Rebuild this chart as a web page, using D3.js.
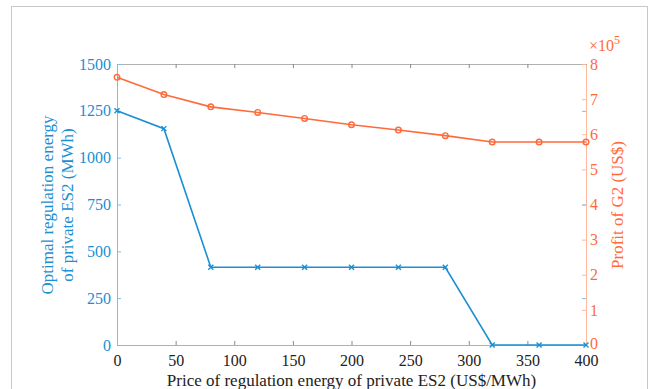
<!DOCTYPE html>
<html>
<head>
<meta charset="utf-8">
<script src="https://cdn.jsdelivr.net/npm/d3@7"></script>
<style>
  body { margin: 0; background: #fff; }
  svg { display: block; }
  svg text { font-family: "Liberation Serif", "Times New Roman", serif; }
</style>
</head>
<body>
<svg id="chart" width="654" height="389"></svg>
<script>
const prices = [0, 40, 80, 120, 160, 200, 240, 280, 320, 360, 400];
const energy = [1250, 1155, 415, 415, 415, 415, 415, 415, 0, 0, 0];
const profit = [7.62, 7.13, 6.78, 6.62, 6.45, 6.27, 6.12, 5.96, 5.78, 5.78, 5.78]; // x10^5
const xTicks = [0, 50, 100, 150, 200, 250, 300, 350, 400];
const leftTicks = [0, 250, 500, 750, 1000, 1250, 1500];
const rightTicks = [0, 1, 2, 3, 4, 5, 6, 7, 8];

const blue = "#1a8fd3";
const blueAxis = "#7cc0ea";
const red = "#ff6a3a";
const redAxis = "#ffb79e";
const gray = "#b0b0b0";

const margin = {top: 64, right: 68, bottom: 44, left: 117};
const width = 586 - margin.left;
const height = 345 - margin.top;
const fmt = d3.format("d");

const svg = d3.select("#chart");

// figure frame
svg.append("rect")
    .attr("x", 11.5).attr("y", 6.5)
    .attr("width", 636).attr("height", 400)
    .attr("fill", "none").attr("stroke", "#c8c8c8");

const x = d3.scaleLinear().domain([0, 400]).range([0, width]);
const yL = d3.scaleLinear().domain([0, 1500]).range([height, 0]);
const yR = d3.scaleLinear().domain([0, 8]).range([height, 0]);

const chart = svg.append("g")
    .attr("transform", `translate(${ margin.left },${ margin.top })`);

const styleAxis = (g, lineColor, textColor) => {
  g.attr("font-family", "Liberation Serif").attr("font-size", 16);
  g.select(".domain").attr("stroke", lineColor);
  g.selectAll(".tick line").attr("stroke", lineColor);
  g.selectAll(".tick text").attr("fill", textColor);
};

// bottom axis
chart.append("g")
    .attr("transform", `translate(0,${ height })`)
    .call(d3.axisBottom(x).tickValues(xTicks).tickSizeInner(-4).tickSizeOuter(0).tickPadding(10).tickFormat(fmt))
    .call(styleAxis, gray, "#222")
    .selectAll(".tick line").attr("stroke", "#888");

// top axis
chart.append("g")
    .call(d3.axisTop(x).tickValues(xTicks).tickSizeInner(-4).tickSizeOuter(0).tickFormat(""))
    .call(styleAxis, gray, "#222")
    .selectAll(".tick line").attr("stroke", "#888");

// left axis
chart.append("g")
    .call(d3.axisLeft(yL).tickValues(leftTicks).tickSizeInner(-4).tickSizeOuter(0).tickPadding(6).tickFormat(fmt))
    .call(styleAxis, blueAxis, blue);

// right axis, with left-axis ticks mirrored
chart.append("g")
    .attr("transform", `translate(${ width },0)`)
    .call(d3.axisRight(yR).tickValues(rightTicks).tickSizeInner(-4).tickSizeOuter(0).tickPadding(4).tickFormat(fmt))
    .call(styleAxis, redAxis, red)
    .selectAll(".tick text").filter((d) => d === 0).attr("dy", "0.2em");

chart.append("g")
    .attr("transform", `translate(${ width },0)`)
    .call(d3.axisLeft(yL).tickValues(leftTicks.filter((d) => d % 500 !== 0)).tickSize(4).tickFormat(""))
    .call((g) => g.select(".domain").remove())
    .selectAll(".tick line").attr("stroke", blueAxis);

// exponent label
const expo = svg.append("text")
    .attr("x", 589).attr("y", 51)
    .attr("fill", red).attr("font-size", 16);
expo.append("tspan").text("\u00d710");
expo.append("tspan").attr("dy", -7).attr("font-size", 12).text("5");

// blue series
const lineL = d3.line().x((d, i) => x(prices[i])).y((d) => yL(d));
chart.append("path")
    .datum(energy)
    .attr("d", lineL)
    .attr("fill", "none").attr("stroke", blue).attr("stroke-width", 1.6);

chart.selectAll(".xmark")
    .data(energy)
  .enter().append("path")
    .attr("class", "xmark")
    .attr("transform", (d, i) => `translate(${ x(prices[i]) },${ yL(d) })`)
    .attr("d", "M-2.5,-2.5L2.5,2.5M-2.5,2.5L2.5,-2.5")
    .attr("stroke", blue).attr("stroke-width", 1.4);

// red series
const lineR = d3.line().x((d, i) => x(prices[i])).y((d) => yR(d));
chart.append("path")
    .datum(profit)
    .attr("d", lineR)
    .attr("fill", "none").attr("stroke", red).attr("stroke-width", 1.6);

chart.selectAll(".omark")
    .data(profit)
  .enter().append("circle")
    .attr("cx", (d, i) => x(prices[i]))
    .attr("cy", (d) => yR(d))
    .attr("r", 2.8)
    .attr("fill", "none").attr("stroke", red).attr("stroke-width", 1.4);

// titles
svg.append("text")
    .attr("x", margin.left + width / 2).attr("y", 386)
    .attr("text-anchor", "middle")
    .attr("fill", "#222").attr("font-size", 17)
    .text("Price of regulation energy of private ES2 (US$/MWh)");

const leftTitle = svg.append("text")
    .attr("transform", "translate(53,205) rotate(-90)")
    .attr("text-anchor", "middle")
    .attr("fill", blue).attr("font-size", 17);
leftTitle.append("tspan").attr("x", 0).attr("y", 0).text("Optimal regulation energy");
leftTitle.append("tspan").attr("x", 0).attr("y", 20).text("of private ES2 (MWh)");

svg.append("text")
    .attr("transform", "translate(623,205) rotate(-90)")
    .attr("text-anchor", "middle")
    .attr("fill", red).attr("font-size", 17)
    .text("Profit of G2 (US$)");
</script>
</body>
</html>
